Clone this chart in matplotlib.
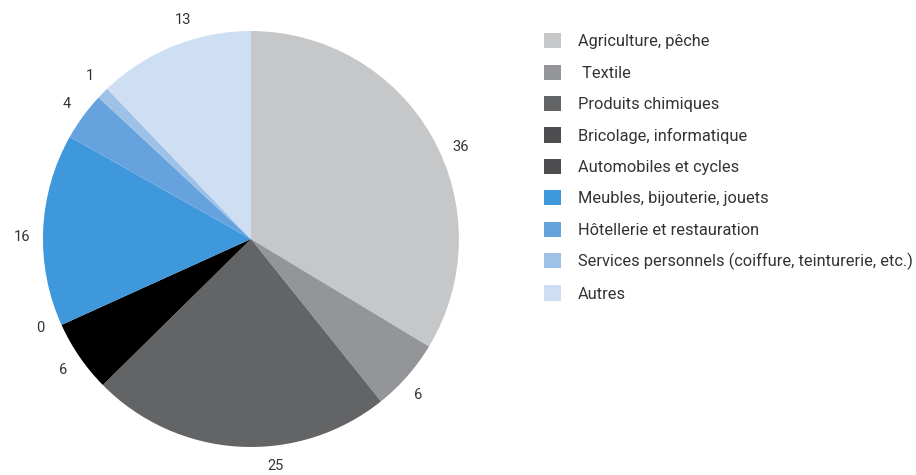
import numpy as np
import matplotlib.pyplot as plt
from matplotlib.patches import Patch

plt.rcParams['font.family'] = ['Roboto', 'DejaVu Sans']

sectors = ["Agriculture, pêche", " Textile", "Produits chimiques",
           "Bricolage, informatique", "Automobiles et cycles",
           "Meubles, bijouterie, jouets", "Hôtellerie et restauration",
           "Services personnels (coiffure, teinturerie, etc.)", "Autres"]
shares = [36, 6, 25, 6, 0, 16, 4, 1, 13]

slice_colors = ["#c6c7c9", "#939598", "#636466", "#000000", "#4d4d4f",
                "#3f97dc", "#66a3de", "#9ec1e8", "#cfdff3"]
legend_colors = ["#c6c7c9", "#939598", "#636466", "#4d4d4f", "#4d4d4f",
                 "#3f97dc", "#66a3de", "#9ec1e8", "#cfdff3"]
# clockwise shift (degrees) of each value label away from its slice middle
label_shift = [5.7, 1.8, -9.5, -0.5, 1.5, -2.0, 0.0, 0.8, 4.7]
text_color = "#333333"

fig = plt.figure(figsize=(9.16, 4.75), dpi=100)
ax = fig.add_axes([0.0469, 0.0589, 0.4541, 0.8758])

wedges, texts = ax.pie(shares, labels=[str(v) for v in shares],
                       colors=slice_colors, startangle=90, counterclock=False,
                       labeldistance=1.1, radius=1.0,
                       textprops=dict(fontsize=10.5, color=text_color))
for w, t, shift in zip(wedges, texts, label_shift):
    ang = np.deg2rad((w.theta1 + w.theta2) / 2 - shift)
    t.set_position((1.1 * np.cos(ang), 1.1 * np.sin(ang)))
    t.set_horizontalalignment("center")
    t.set_verticalalignment("center")
ax.set_xlim(-1, 1)
ax.set_ylim(-1, 1)

handles = [Patch(facecolor=c, edgecolor="none") for c in legend_colors]
fig.legend(handles, sectors, loc="upper left", bbox_to_anchor=(0.594, 0.930),
           frameon=False, fontsize=11.8, labelcolor=text_color,
           handlelength=1.04, handleheight=1.04, handletextpad=1.04,
           labelspacing=0.93, borderpad=0, borderaxespad=0)

fig.savefig("out.png", dpi=100)
